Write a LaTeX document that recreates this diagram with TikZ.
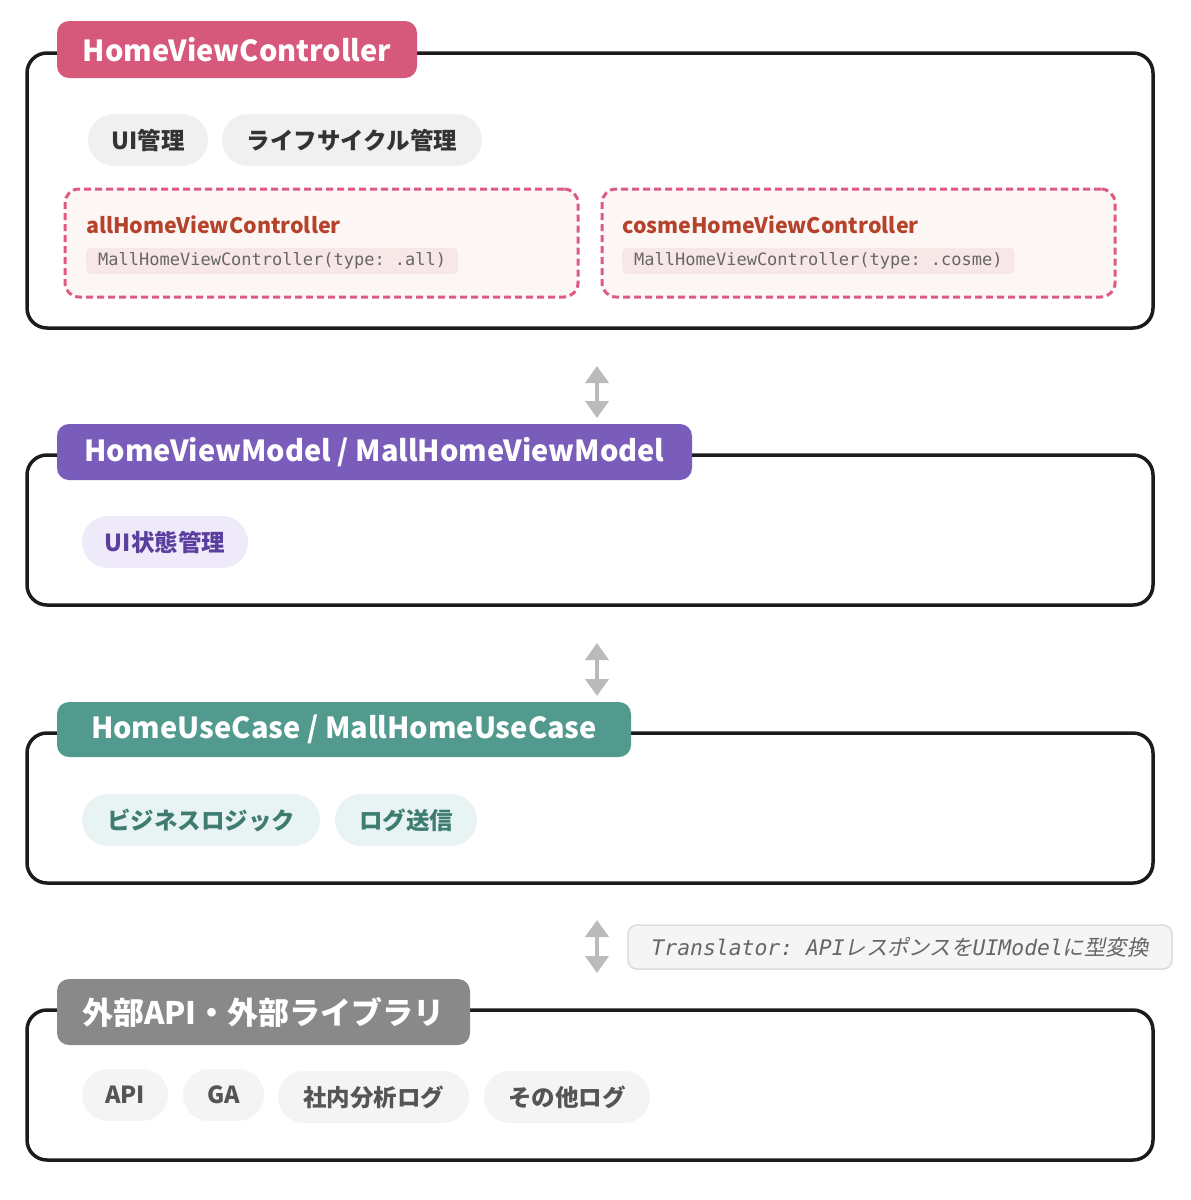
\documentclass[tikz,border=0pt]{standalone}
\usepackage{fontspec}
\setmainfont{Noto Sans CJK JP}
\setmonofont{DejaVu Sans Mono}
\newfontfamily\jpslant{Noto Sans CJK JP}[FakeSlant=0.2]
\usetikzlibrary{arrows.meta}

\definecolor{boxline}{HTML}{1C1C1C}
\definecolor{tabpink}{HTML}{D6587B}
\definecolor{tabpurple}{HTML}{7A5DBA}
\definecolor{tabteal}{HTML}{529A8D}
\definecolor{tabgray}{HTML}{898989}
\definecolor{pillgray}{HTML}{F0F0F0}
\definecolor{pilltext}{HTML}{333333}
\definecolor{pillpurple}{HTML}{EFEAF9}
\definecolor{textpurple}{HTML}{5A3F9E}
\definecolor{pillteal}{HTML}{E8F4F3}
\definecolor{textteal}{HTML}{3E7C71}
\definecolor{pillext}{HTML}{F4F4F4}
\definecolor{textext}{HTML}{555555}
\definecolor{dashpink}{HTML}{DE5A85}
\definecolor{dashfill}{HTML}{FCF6F4}
\definecolor{rust}{HTML}{B5432B}
\definecolor{codefill}{HTML}{F8E7E7}
\definecolor{codetext}{HTML}{666666}
\definecolor{arrowgray}{HTML}{BBBBBB}
\definecolor{trfill}{HTML}{F5F5F5}
\definecolor{trline}{HTML}{DCDCDC}
\definecolor{trtext}{HTML}{666666}

\tikzset{
  layer/.style={draw=boxline, line width=3.5pt, rounded corners=20pt, fill=white, inner sep=0pt},
  tab/.style={rounded corners=12pt, text=white, inner sep=0pt,
    font=\bfseries\fontsize{29}{34}\selectfont},
  pill/.style={rounded corners=26pt, minimum height=52pt, inner sep=0pt,
    font=\bfseries\fontsize{23.5}{28}\selectfont},
  subbox/.style={draw=dashpink, fill=dashfill, line width=3pt, dash pattern=on 7pt off 4pt,
    rounded corners=14pt, inner sep=0pt, minimum width=513pt, minimum height=108pt},
  subtitle/.style={anchor=base west, text=rust, inner sep=0pt,
    font=\bfseries\fontsize{21.4}{26}\selectfont},
  codebox/.style={anchor=west, fill=codefill, text=codetext, rounded corners=5pt,
    minimum height=26pt, inner xsep=12pt, inner ysep=0pt,
    font=\ttfamily\fontsize{17}{20}\selectfont},
  biarrow/.style={draw=arrowgray, line width=4pt,
    {Triangle[width=23pt,length=17pt]}-{Triangle[width=23pt,length=17pt]}},
}

\begin{document}
\begin{tikzpicture}[x=1pt,y=-1pt]
\useasboundingbox[fill=white] (0,0) rectangle (1191,1200);

% ---------- Layer 1 ----------
\node[layer, minimum width=1126pt, minimum height=275pt] (L1) at (590,190.5) {};
\node[tab, fill=tabpink, minimum width=360pt, minimum height=57pt] (T1) at (237,49.5) {HomeViewController};
\node[pill, fill=pillgray, text=pilltext, minimum width=120pt] (p11) at (148,140) {UI管理};
\node[pill, fill=pillgray, text=pilltext, minimum width=260pt] (p12) at (352,140) {ライフサイクル管理};

\node[subbox] (D1) at (321.5,243) {};
\node[subtitle] (D1t) at (86,233) {allHomeViewController};
\node[codebox] (D1c) at (86,261) {MallHomeViewController(type: .all)};

\node[subbox] (D2) at (858.5,243) {};
\node[subtitle] (D2t) at (622,233) {cosmeHomeViewController};
\node[codebox] (D2c) at (622,261) {MallHomeViewController(type: .cosme)};

% ---------- Arrow 1 ----------
\coordinate (a1t) at (597,366);
\coordinate (a1b) at (597,418);
\draw[biarrow] (a1t) -- (a1b);

% ---------- Layer 2 ----------
\node[layer, minimum width=1126pt, minimum height=150pt] (L2) at (590,530) {};
\node[tab, fill=tabpurple, minimum width=635pt, minimum height=56pt] (T2) at (374.5,452) {HomeViewModel / MallHomeViewModel};
\node[pill, fill=pillpurple, text=textpurple, minimum width=166pt] (p21) at (165,542) {UI状態管理};

% ---------- Arrow 2 ----------
\coordinate (a2t) at (597,643);
\coordinate (a2b) at (597,696);
\draw[biarrow] (a2t) -- (a2b);

% ---------- Layer 3 ----------
\node[layer, minimum width=1126pt, minimum height=150pt] (L3) at (590,808) {};
\node[tab, fill=tabteal, minimum width=574pt, minimum height=55pt] (T3) at (344,729.5) {HomeUseCase / MallHomeUseCase};
\node[pill, fill=pillteal, text=textteal, minimum width=238pt] (p31) at (201,820) {ビジネスロジック};
\node[pill, fill=pillteal, text=textteal, minimum width=142pt] (p32) at (406,820) {ログ送信};

% ---------- Arrow 3 + translator ----------
\coordinate (a3t) at (597,920);
\coordinate (a3b) at (597,973);
\draw[biarrow] (a3t) -- (a3b);
\node[draw=trline, fill=trfill, line width=1.5pt, rounded corners=9pt, minimum width=544pt,
  minimum height=44pt, inner sep=0pt, text=trtext] (tr) at (900,947)
  {\fontsize{21.4}{24}\selectfont\ttfamily\itshape Translator: API{\jpslant\upshape\mdseries レスポンスを}UIModel{\jpslant\upshape\mdseries に型変換}};

% ---------- Layer 4 ----------
\node[layer, minimum width=1126pt, minimum height=150pt] (L4) at (590,1085) {};
\node[tab, fill=tabgray, minimum width=413pt, minimum height=66pt,
  font=\bfseries\fontsize{31}{36}\selectfont] (T4) at (263.5,1012) {外部API・外部ライブラリ};
\node[pill, fill=pillext, text=textext, minimum width=86pt] (p41) at (125,1095) {API};
\node[pill, fill=pillext, text=textext, minimum width=81pt] (p42) at (223.5,1095) {GA};
\node[pill, fill=pillext, text=textext, minimum width=191pt] (p43) at (373.5,1097) {社内分析ログ};
\node[pill, fill=pillext, text=textext, minimum width=166pt] (p44) at (567,1097) {その他ログ};
\end{tikzpicture}
\end{document}
